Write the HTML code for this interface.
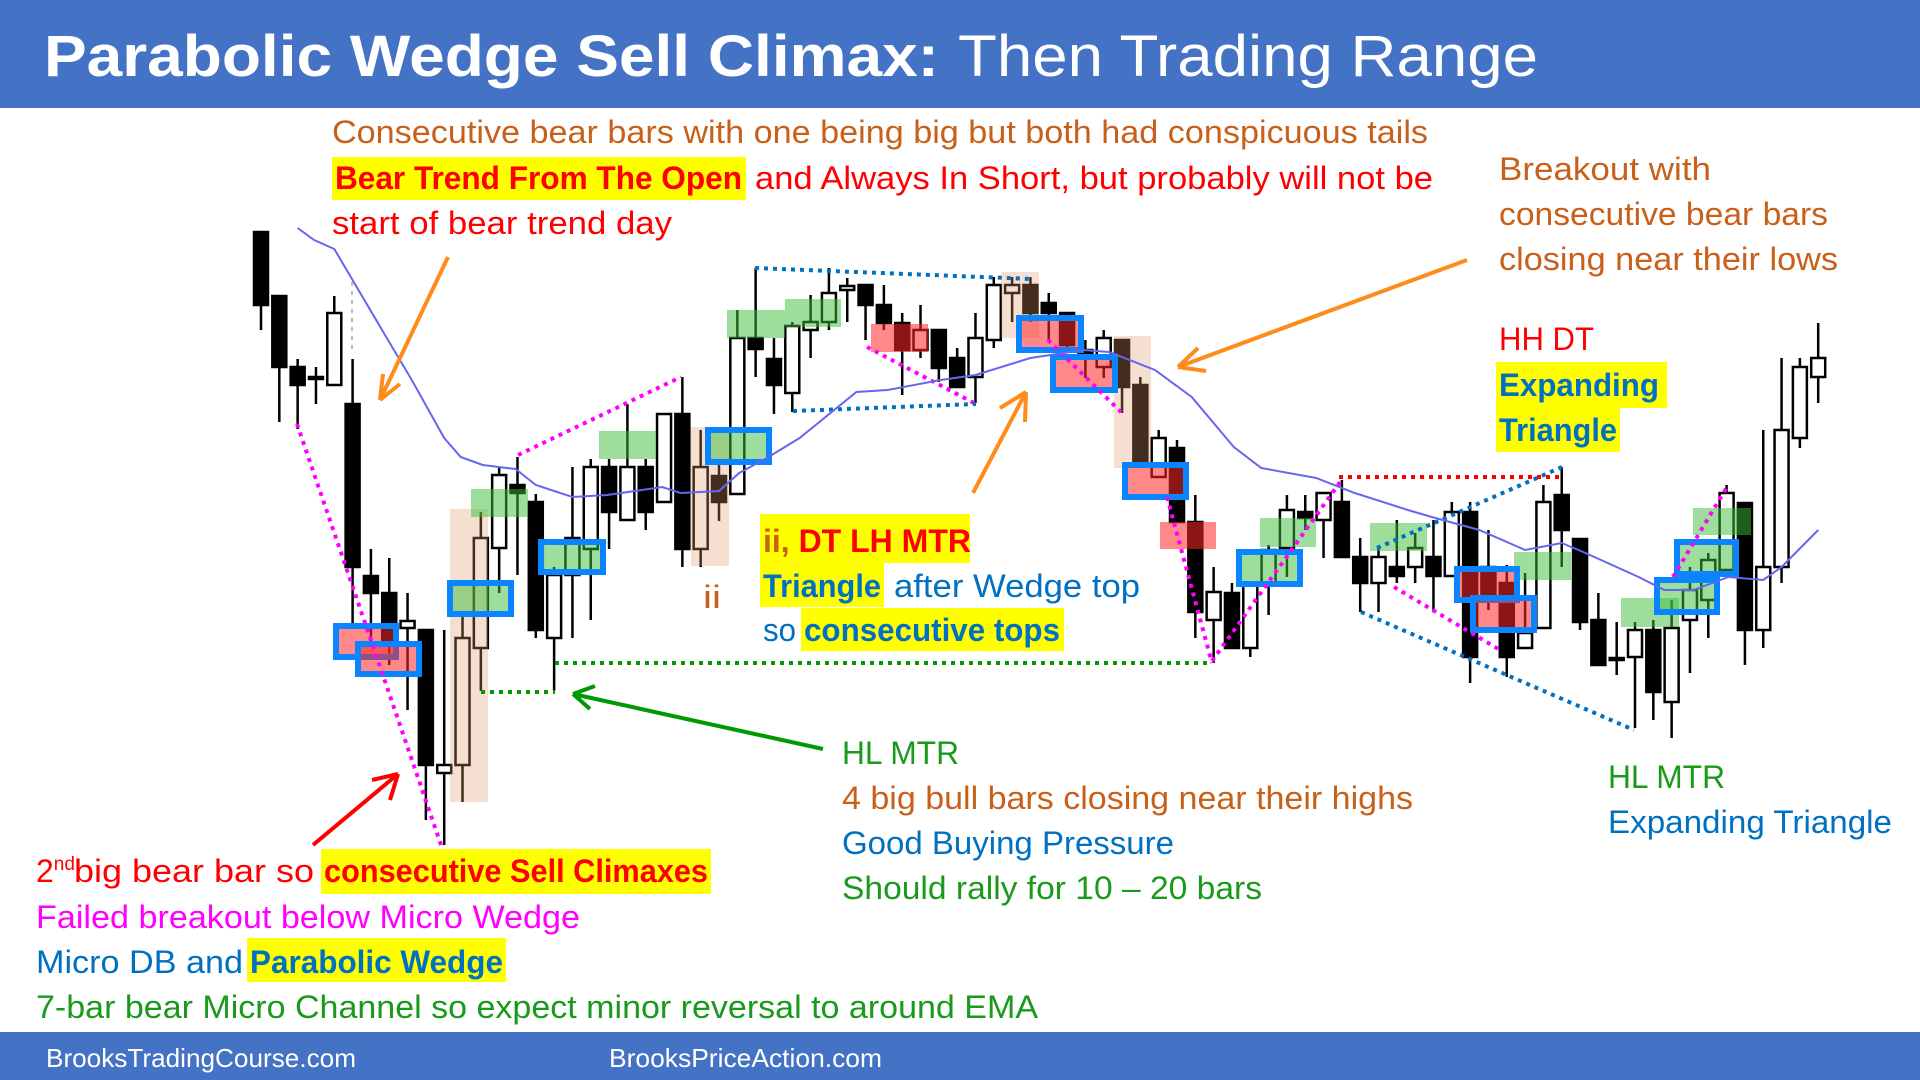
<!DOCTYPE html>
<html><head><meta charset="utf-8">
<style>
html,body{margin:0;padding:0;background:#fff;}
svg{display:block;font-family:"Liberation Sans",sans-serif;}
</style></head>
<body>
<svg id="chart" width="1920" height="1080" viewBox="0 0 1920 1080" xmlns="http://www.w3.org/2000/svg">
<rect x="0" y="0" width="1920" height="108" fill="#4472c4"/>
<text x="44" y="76" fill="#fff" font-size="58"><tspan font-weight="bold" textLength="895" lengthAdjust="spacingAndGlyphs">Parabolic Wedge Sell Climax:</tspan><tspan x="958" textLength="580" lengthAdjust="spacingAndGlyphs">Then Trading Range</tspan></text>
<rect x="0" y="1032" width="1920" height="48" fill="#4472c4"/>
<text x="46" y="1067" fill="#fff" font-size="26" textLength="310" lengthAdjust="spacingAndGlyphs">BrooksTradingCourse.com</text>
<text x="609" y="1067" fill="#fff" font-size="26" textLength="273" lengthAdjust="spacingAndGlyphs">BrooksPriceAction.com</text>

<g id="candles"></g>
<g id="overlays">
<rect x="450" y="509" width="38" height="293" fill="rgba(220,150,100,0.3)"/>
<rect x="691" y="427" width="38" height="139" fill="rgba(220,150,100,0.3)"/>
<rect x="1001" y="272" width="38" height="66" fill="rgba(220,150,100,0.3)"/>
<rect x="1114" y="336" width="37" height="132" fill="rgba(220,150,100,0.3)"/>
<g fill="rgba(60,190,60,0.5)">
<rect x="471" y="489" width="57" height="28"/>
<rect x="599" y="431" width="57" height="28"/>
<rect x="727" y="310" width="58" height="28"/>
<rect x="785" y="299" width="56" height="28"/>
<rect x="1260" y="518" width="56" height="29"/>
<rect x="1370" y="523" width="57" height="28"/>
<rect x="1514" y="552" width="57" height="28"/>
<rect x="1621" y="598" width="58" height="29"/>
<rect x="1693" y="508" width="58" height="27"/>
</g>
<g fill="rgba(255,40,40,0.55)">
<rect x="871" y="324" width="57" height="28"/>
<rect x="1160" y="522" width="56" height="27"/>
</g>
<g stroke="#0a84ff" stroke-width="6">
<rect x="336" y="626" width="60" height="31" fill="rgba(255,40,40,0.55)"/>
<rect x="358" y="644" width="61" height="30" fill="rgba(255,40,40,0.55)"/>
<rect x="450" y="583" width="61" height="31" fill="rgba(60,190,60,0.5)"/>
<rect x="541" y="542" width="62" height="30" fill="rgba(60,190,60,0.5)"/>
<rect x="708" y="430" width="61" height="32" fill="rgba(60,190,60,0.5)"/>
<rect x="1019" y="318" width="62" height="32" fill="rgba(255,40,40,0.55)"/>
<rect x="1053" y="357" width="62" height="33" fill="rgba(255,40,40,0.55)"/>
<rect x="1125" y="465" width="61" height="32" fill="rgba(255,40,40,0.55)"/>
<rect x="1239" y="552" width="61" height="32" fill="rgba(60,190,60,0.5)"/>
<rect x="1457" y="569" width="60" height="31" fill="rgba(255,40,40,0.55)"/>
<rect x="1473" y="598" width="61" height="32" fill="rgba(255,40,40,0.55)"/>
<rect x="1657" y="580" width="60" height="32" fill="rgba(60,190,60,0.5)"/>
<rect x="1677" y="542" width="59" height="32" fill="rgba(60,190,60,0.5)"/>
</g>
<g fill="none" stroke-width="4" stroke-dasharray="4,5">
<line x1="352" y1="282" x2="352" y2="350" stroke="#bbb" stroke-width="2"/>
<line x1="297" y1="424" x2="441" y2="845" stroke="#ff00ff"/>
<line x1="518" y1="455" x2="681" y2="377" stroke="#ff00ff"/>
<line x1="867" y1="347" x2="976" y2="404" stroke="#ff00ff"/>
<line x1="1048" y1="340" x2="1121" y2="412" stroke="#ff00ff"/>
<line x1="1167" y1="497" x2="1212" y2="663" stroke="#ff00ff"/>
<line x1="1212" y1="661" x2="1343" y2="478" stroke="#ff00ff"/>
<line x1="1394" y1="587" x2="1500" y2="650" stroke="#ff00ff"/>
<line x1="1673" y1="577" x2="1727" y2="487" stroke="#ff00ff"/>
<line x1="755" y1="268" x2="1032" y2="279" stroke="#0070c0"/>
<line x1="793" y1="411" x2="976" y2="404" stroke="#0070c0"/>
<line x1="1361" y1="612" x2="1634" y2="730" stroke="#0070c0"/>
<line x1="1377" y1="548" x2="1562" y2="467" stroke="#0070c0"/>
<line x1="1339" y1="477" x2="1562" y2="477" stroke="#ff0000"/>
<line x1="555" y1="663" x2="1212" y2="663" stroke="#009a00"/>
<line x1="481" y1="692" x2="555" y2="692" stroke="#009a00"/>
</g>
<path id="ema" fill="none" stroke="#6666ee" stroke-width="2"/>
<g fill="none" stroke-width="4">
<path d="M448 257 L380 400 M380 400 L383 374 M380 400 L400 384" stroke="#ff8c1a"/>
<path d="M973 493 L1026 392 M1026 392 L1000 408 M1026 392 L1025 422" stroke="#ff8c1a"/>
<path d="M1467 260 L1178 367 M1178 367 L1198 348 M1178 367 L1206 371" stroke="#ff8c1a"/>
<path d="M313 845 L398 774 M398 774 L372 780 M398 774 L390 800" stroke="#ff0000"/>
<path d="M823 749 L573 694 M573 694 L595 686 M573 694 L590 709" stroke="#009a00"/>
</g>
</g>

<g id="annotations" font-size="32">
<text x="332" y="143" fill="#c8601a" textLength="1096" lengthAdjust="spacingAndGlyphs">Consecutive bear bars with one being big but both had conspicuous tails</text>
<rect x="332" y="157" width="414" height="43" fill="#ffff00"/>
<text x="335" y="189" fill="#ff0000" font-weight="bold" textLength="407" lengthAdjust="spacingAndGlyphs">Bear Trend From The Open</text>
<text x="755" y="189" fill="#ff0000" textLength="678" lengthAdjust="spacingAndGlyphs">and Always In Short, but probably will not be</text>
<text x="332" y="234" fill="#ff0000" textLength="340" lengthAdjust="spacingAndGlyphs">start of bear trend day</text>

<text x="1499" y="180" fill="#c8601a" textLength="212" lengthAdjust="spacingAndGlyphs">Breakout with</text>
<text x="1499" y="225" fill="#c8601a" textLength="329" lengthAdjust="spacingAndGlyphs">consecutive bear bars</text>
<text x="1499" y="270" fill="#c8601a" textLength="339" lengthAdjust="spacingAndGlyphs">closing near their lows</text>
<text x="1499" y="350" fill="#ff0000" textLength="95" lengthAdjust="spacingAndGlyphs">HH DT</text>
<rect x="1496" y="362" width="171" height="46" fill="#ffff00"/>
<rect x="1496" y="408" width="124" height="44" fill="#ffff00"/>
<text x="1499" y="396" fill="#0070c0" font-weight="bold" textLength="160" lengthAdjust="spacingAndGlyphs">Expanding</text>
<text x="1499" y="441" fill="#0070c0" font-weight="bold" textLength="118" lengthAdjust="spacingAndGlyphs">Triangle</text>

<text x="703" y="608" fill="#c8601a" textLength="18" lengthAdjust="spacingAndGlyphs">ii</text>
<rect x="760" y="514" width="210" height="49" fill="#ffff00"/>
<text x="763" y="552" font-weight="bold"><tspan fill="#c8601a">ii, </tspan><tspan fill="#ff0000">DT LH MTR</tspan></text>
<rect x="760" y="563" width="124" height="44" fill="#ffff00"/>
<text x="763" y="597" fill="#0070c0" font-weight="bold" textLength="118" lengthAdjust="spacingAndGlyphs">Triangle</text>
<text x="894" y="597" fill="#0070c0" textLength="246" lengthAdjust="spacingAndGlyphs">after Wedge top</text>
<text x="763" y="641" fill="#0070c0" textLength="33" lengthAdjust="spacingAndGlyphs">so</text>
<rect x="801" y="608" width="263" height="43" fill="#ffff00"/>
<text x="804" y="641" fill="#0070c0" font-weight="bold" textLength="256" lengthAdjust="spacingAndGlyphs">consecutive tops</text>

<text x="842" y="764" fill="#1a9a1a" textLength="117" lengthAdjust="spacingAndGlyphs">HL MTR</text>
<text x="842" y="809" fill="#c8601a" textLength="571" lengthAdjust="spacingAndGlyphs">4 big bull bars closing near their highs</text>
<text x="842" y="854" fill="#0070c0" textLength="332" lengthAdjust="spacingAndGlyphs">Good Buying Pressure</text>
<text x="842" y="899" fill="#1a9a1a" textLength="420" lengthAdjust="spacingAndGlyphs">Should rally for 10 – 20 bars</text>

<text x="1608" y="788" fill="#1a9a1a" textLength="117" lengthAdjust="spacingAndGlyphs">HL MTR</text>
<text x="1608" y="833" fill="#0070c0" textLength="284" lengthAdjust="spacingAndGlyphs">Expanding Triangle</text>

<text x="36" y="882" fill="#ff0000">2<tspan font-size="19" dy="-12">nd</tspan><tspan x="74" dy="12" textLength="240" lengthAdjust="spacingAndGlyphs">big bear bar so</tspan></text>
<rect x="321" y="849" width="390" height="45" fill="#ffff00"/>
<text x="324" y="882" fill="#ff0000" font-weight="bold" textLength="384" lengthAdjust="spacingAndGlyphs">consecutive Sell Climaxes</text>
<text x="36" y="928" fill="#ff00ff" textLength="544" lengthAdjust="spacingAndGlyphs">Failed breakout below Micro Wedge</text>
<text x="36" y="973" fill="#0070c0" textLength="207" lengthAdjust="spacingAndGlyphs">Micro DB and</text>
<rect x="247" y="938" width="259" height="44" fill="#ffff00"/>
<text x="250" y="973" fill="#0070c0" font-weight="bold" textLength="253" lengthAdjust="spacingAndGlyphs">Parabolic Wedge</text>
<text x="36" y="1018" fill="#1a9a1a" textLength="1002" lengthAdjust="spacingAndGlyphs">7-bar bear Micro Channel so expect minor reversal to around EMA</text>
</g>
</svg>
<script>
const openP  = [768,704,633,623,615,596,424,407,372,370,227,235,352,452,515,498,362,425,451,533,480,533,498,586,451,524,506,662,641,607,670,678,710,715,695,677,650,670,642,623,660,707,715,697,687,650,633,660,615,523,552,478,380,407,352,417,452,488,480,498,443,417,433,433,443,424,488,433,417,352,372,505,461,380,342,343,370,298,380,400,430,497,370,433,562,623];
const highP  = [768,704,641,633,704,641,451,442,407,370,370,384,488,533,543,506,433,533,541,541,596,541,586,623,570,535,690,732,662,678,705,732,722,715,715,687,695,670,652,687,723,723,723,707,687,660,670,660,623,570,560,505,433,417,415,455,505,505,507,520,462,453,480,467,480,498,498,470,435,427,515,533,461,407,378,378,380,400,433,447,515,497,570,642,642,677];
const lowP   = [670,578,571,596,615,372,356,335,290,180,155,198,309,407,425,362,309,362,380,451,480,470,498,433,433,479,506,623,586,588,642,670,678,660,670,605,642,618,613,597,652,678,678,660,647,622,622,587,535,523,478,362,337,352,343,385,423,470,442,443,388,388,417,417,388,424,317,390,323,352,372,433,370,335,325,272,280,262,327,362,430,335,352,417,552,597];
const closeP = [695,633,615,622,687,433,407,356,379,235,235,362,462,525,507,370,425,462,533,488,533,488,586,451,533,498,662,651,615,674,678,707,714,695,677,650,670,632,613,662,715,715,687,687,655,643,662,613,535,562,478,388,408,352,415,450,490,482,507,443,417,443,424,452,424,488,343,400,343,367,498,470,378,335,340,370,308,372,410,440,507,370,433,570,633,642];
const emaIdx = [2.0,2.9,4.0,4.9,6.8,8.2,10.0,10.9,12.1,13.9,15.0,17.0,18.9,21.9,22.9,25.0,26.1,27.7,29.4,32.5,34.2,37.1,39.0,42.0,44.9,46.3,48.8,50.8,53.1,54.6,57.6,59.7,62.6,64.1,66.5,69.0,71.0,72.3,75.2,76.6,78.2,80.1,82.0,83.0,85.0];
const emaVal = [772,760,751,723,664,621,562,543,535,531,515,503,505,513,507,509,527,543,562,608,610,620,625,642,650,648,630,603,553,532,522,507,490,482,470,450,457,447,423,410,410,423,420,433,470];

function xScale(i){ return 261 + i*18.32; }
function yScale(p){ return 1000 - p; }
const NS = "http://www.w3.org/2000/svg";
const g = document.getElementById('candles');
const n = Math.min(openP.length, highP.length, lowP.length, closeP.length);
for (let i=0;i<n;i++){
  const x = xScale(i);
  const o=yScale(openP[i]), c=yScale(closeP[i]), h=yScale(highP[i]), l=yScale(lowP[i]);
  const bear = closeP[i] < openP[i];
  const grp = document.createElementNS(NS,'g');
  
  
  const wick = document.createElementNS(NS,'line');
  
  
  wick.setAttribute('x1',x); wick.setAttribute('x2',x);
  wick.setAttribute('y1',h); wick.setAttribute('y2',l);
  wick.setAttribute('stroke','#000'); wick.setAttribute('stroke-width','2.5');
  grp.appendChild(wick);
  const body = document.createElementNS(NS,'rect');
  
  
  const top = Math.min(o,c), ht = Math.max(Math.abs(o-c),2);
  body.setAttribute('x',x-7); body.setAttribute('y',top);
  body.setAttribute('width',14); body.setAttribute('height',ht);
  body.setAttribute('fill', bear ? '#000' : '#fff');
  body.setAttribute('stroke','#000'); body.setAttribute('stroke-width','2.5');
  grp.appendChild(body);
  g.appendChild(grp);
}
let d='';
for (let k=0;k<Math.min(emaIdx.length,emaVal.length);k++){
  d += (k?'L':'M') + xScale(emaIdx[k]).toFixed(1) + ' ' + yScale(emaVal[k]).toFixed(1) + ' ';
}
document.getElementById('ema').setAttribute('d', d);
</script>
</body></html>
